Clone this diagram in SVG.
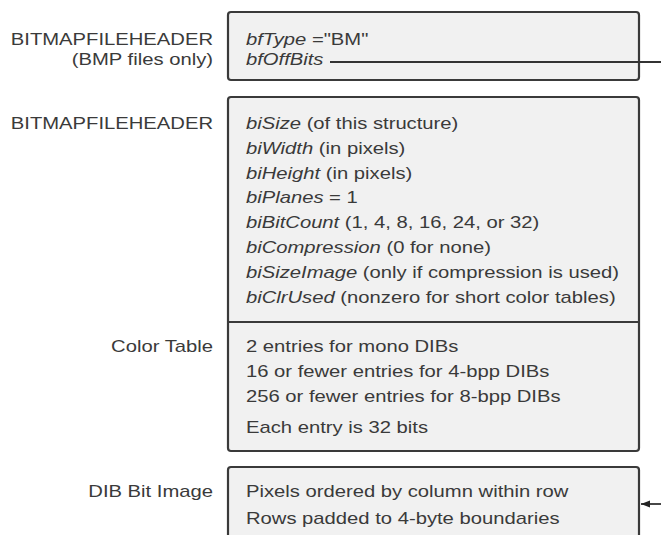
<svg xmlns="http://www.w3.org/2000/svg" width="661" height="535" viewBox="0 0 661 535">
<style>
.box{fill:#f1f1f1;stroke:#3a3a3a;stroke-width:2.2}
.div{stroke:#3a3a3a;stroke-width:2.2}
.t{font-family:"Liberation Sans",Arial,sans-serif;font-size:17px;fill:#3a3a3a}
.lbl{text-anchor:end}
.i{font-style:italic}
.conn{fill:none;stroke:#333;stroke-width:1.8}
</style>
<defs>
<marker id="ah" markerUnits="userSpaceOnUse" markerWidth="10" markerHeight="8" refX="9" refY="4" orient="auto">
<path d="M0,0.5 L9,4 L0,7.5 Z" fill="#222"/>
</marker>
</defs>
<rect width="661" height="535" fill="#ffffff"/>
<g id="fileheader">
<rect class="box" x="228" y="12" width="411" height="68" rx="3"/>
<g transform="scale(1.19,1)">
<text class="t lbl" x="179" y="45">BITMAPFILEHEADER</text>
<text class="t lbl" x="179" y="65">(BMP files only)</text>
<text class="t" x="206.7" y="45"><tspan class="i">bfType</tspan> ="BM"</text>
<text class="t" x="206.7" y="65"><tspan class="i">bfOffBits</tspan></text>
</g>
</g>
<g id="infoheader">
<rect class="box" x="228" y="97" width="411" height="354" rx="3"/>
<g transform="scale(1.19,1)">
<text class="t lbl" x="179" y="129">BITMAPFILEHEADER</text>
<text class="t" x="206.7" y="129"><tspan class="i">biSize</tspan> (of this structure)</text>
<text class="t" x="206.7" y="154"><tspan class="i">biWidth</tspan> (in pixels)</text>
<text class="t" x="206.7" y="179"><tspan class="i">biHeight</tspan> (in pixels)</text>
<text class="t" x="206.7" y="203"><tspan class="i">biPlanes</tspan> = 1</text>
<text class="t" x="206.7" y="228"><tspan class="i">biBitCount</tspan> (1, 4, 8, 16, 24, or 32)</text>
<text class="t" x="206.7" y="253"><tspan class="i">biCompression</tspan> (0 for none)</text>
<text class="t" x="206.7" y="278"><tspan class="i">biSizeImage</tspan> (only if compression is used)</text>
<text class="t" x="206.7" y="303"><tspan class="i">biClrUsed</tspan> (nonzero for short color tables)</text>
</g>
</g>
<g id="colortable">
<line class="div" x1="228" y1="322" x2="639" y2="322"/>
<g transform="scale(1.19,1)">
<text class="t lbl" x="179" y="352">Color Table</text>
<text class="t" x="206.7" y="352">2 entries for mono DIBs</text>
<text class="t" x="206.7" y="377">16 or fewer entries for 4-bpp DIBs</text>
<text class="t" x="206.7" y="402">256 or fewer entries for 8-bpp DIBs</text>
<text class="t" x="206.7" y="433">Each entry is 32 bits</text>
</g>
</g>
<g id="bitimage">
<rect class="box" x="228" y="467" width="411" height="90" rx="3"/>
<g transform="scale(1.19,1)">
<text class="t lbl" x="179" y="497">DIB Bit Image</text>
<text class="t" x="206.7" y="497">Pixels ordered by column within row</text>
<text class="t" x="206.7" y="524">Rows padded to 4-byte boundaries</text>
</g>
</g>
<g id="connectors">
<path class="conn" d="M330,62 H661"/>
<path class="conn" d="M661,504 H641" marker-end="url(#ah)"/>
</g>
</svg>
